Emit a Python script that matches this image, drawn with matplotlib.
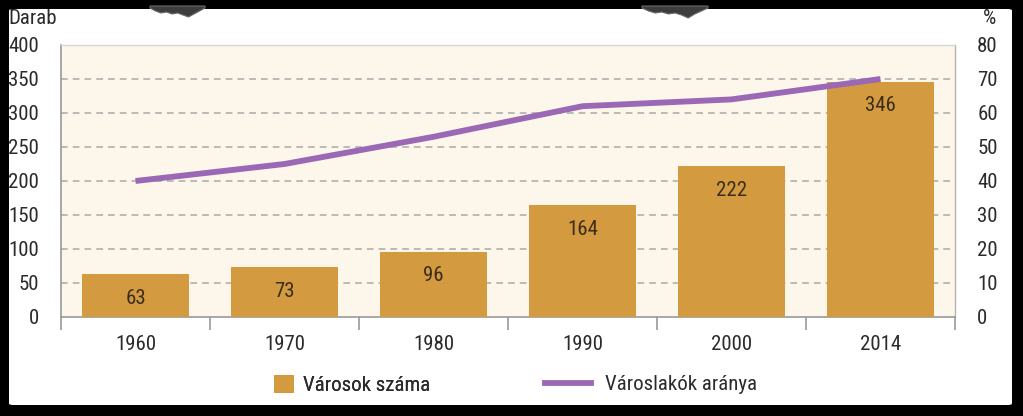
import matplotlib
matplotlib.use("Agg")
import matplotlib.pyplot as plt
from matplotlib.patches import FancyBboxPatch, Patch, Polygon
from matplotlib.lines import Line2D
import numpy as np

years = ["1960", "1970", "1980", "1990", "2000", "2014"]
cities = [63, 73, 96, 164, 222, 346]
urban_share = [40, 45, 53, 62, 64, 70]

left_ticks = [0, 50, 100, 150, 200, 250, 300, 350, 400]
right_ticks = [0, 10, 20, 30, 40, 50, 60, 70, 80]

bar_color = "#D39A3F"
line_color = "#9A68B4"
bg_color = "#FDF6EA"
text_color = "#2b2b2b"
FS = 15

plt.rcParams['font.family'] = ['Roboto Condensed', 'Liberation Sans Narrow',
                               'DejaVu Sans Condensed', 'Roboto', 'DejaVu Sans']

W, H = 1023, 416
fig = plt.figure(figsize=(W / 100, H / 100), dpi=100)
fig.patch.set_facecolor("black")

panel = FancyBboxPatch((9 / W, (H - 405) / H), (1012 - 9) / W, (405 - 9) / H,
                       boxstyle="round,pad=0,rounding_size=0.004",
                       transform=fig.transFigure, facecolor="white",
                       edgecolor="none", zorder=-10)
fig.patches.append(panel)

# decorative blobs hanging from top edge
def blob(x0, x1, depth):
    xs = np.linspace(x0, x1, 11)
    ys = [8, 11, 13, 12, 14, 13, 15, depth, 14, 11, 8]
    pts = [(px / W, 1 - py / H) for px, py in zip(xs, ys)]
    pts = [(x0 / W, 1 - 6 / H)] + pts + [(x1 / W, 1 - 6 / H)]
    return Polygon(pts, closed=True, transform=fig.transFigure,
                   facecolor="#3d3d3d", edgecolor="#6a6a6a", lw=0.8, zorder=-5)

fig.patches.append(blob(150, 205, 17))
fig.patches.append(blob(642, 708, 18))

ax = fig.add_axes([61 / W, 1 - 317 / H, (955 - 61) / W, (317 - 45) / H])
ax.set_facecolor(bg_color)
x = np.arange(len(years))
ax.bar(x, cities, width=0.72, color=bar_color, zorder=3)
for xi, v in zip(x, cities):
    ax.annotate(str(v), (xi, v), xytext=(0, -24 * 0.72), textcoords="offset points",
                ha="center", va="center", fontsize=FS, color="#3a2d1c", zorder=4)

ax.set_xlim(-0.5, len(years) - 0.5)
ax.set_ylim(0, 400)
ax.set_yticks(left_ticks)
ax.set_yticklabels([str(t) for t in left_ticks], fontsize=FS, color=text_color)
ax.tick_params(axis="y", length=0, pad=16)
ax.set_xticks(x)
ax.set_xticklabels(years, fontsize=FS, color=text_color)
ax.tick_params(axis="x", which="major", length=0, pad=13)
ax.set_xticks(np.arange(-0.5, len(years), 1.0), minor=True)
ax.tick_params(axis="x", which="minor", length=9, width=1.2, color="#999999", direction="out")
for yv in left_ticks[1:-1]:
    ax.axhline(yv, color="#aaaaaa", linestyle=(0, (4.4, 3.3)), linewidth=1.1, zorder=1)
ax.spines["top"].set_color("#d5d5d5")
ax.spines["top"].set_linewidth(1.0)
ax.spines["right"].set_color("#b5b5b5")
ax.spines["right"].set_linewidth(1.0)
ax.spines["left"].set_color("#999999")
ax.spines["left"].set_linewidth(1.2)
ax.spines["bottom"].set_color("#999999")
ax.spines["bottom"].set_linewidth(1.2)

ax2 = ax.twinx()
ax2.set_ylim(0, 80)
ax2.set_yticks(right_ticks)
ax2.set_yticklabels([str(t) for t in right_ticks], fontsize=FS, color=text_color)
ax2.tick_params(axis="y", length=0, pad=16)
ax2.plot(x, urban_share, color=line_color, linewidth=4.2, solid_capstyle="butt", zorder=5)
for s in ax2.spines.values():
    s.set_visible(False)

fig.text(8 / W, 1 - 18 / H, "Darab", fontsize=FS, color=text_color, ha="left", va="center")
fig.text(990 / W, 1 - 19 / H, "%", fontsize=FS, color=text_color, ha="center", va="center")

leg1 = fig.legend(handles=[Patch(facecolor=bar_color, edgecolor="none")],
                  labels=["Városok száma"], loc="center left",
                  bbox_to_anchor=(255 / W, 1 - 385 / H), frameon=False,
                  fontsize=FS, handlelength=0.95, handleheight=0.95, handletextpad=0.45,
                  labelcolor=text_color)
leg2 = fig.legend(handles=[Line2D([0], [0], color=line_color, linewidth=4.2)],
                  labels=["Városlakók aránya"], loc="center left",
                  bbox_to_anchor=(526 / W, 1 - 385 / H), frameon=False,
                  fontsize=FS, handlelength=2.2, handletextpad=0.7,
                  labelcolor=text_color)
fig.add_artist(leg1)

fig.savefig("out.png", dpi=100, facecolor=fig.get_facecolor())
